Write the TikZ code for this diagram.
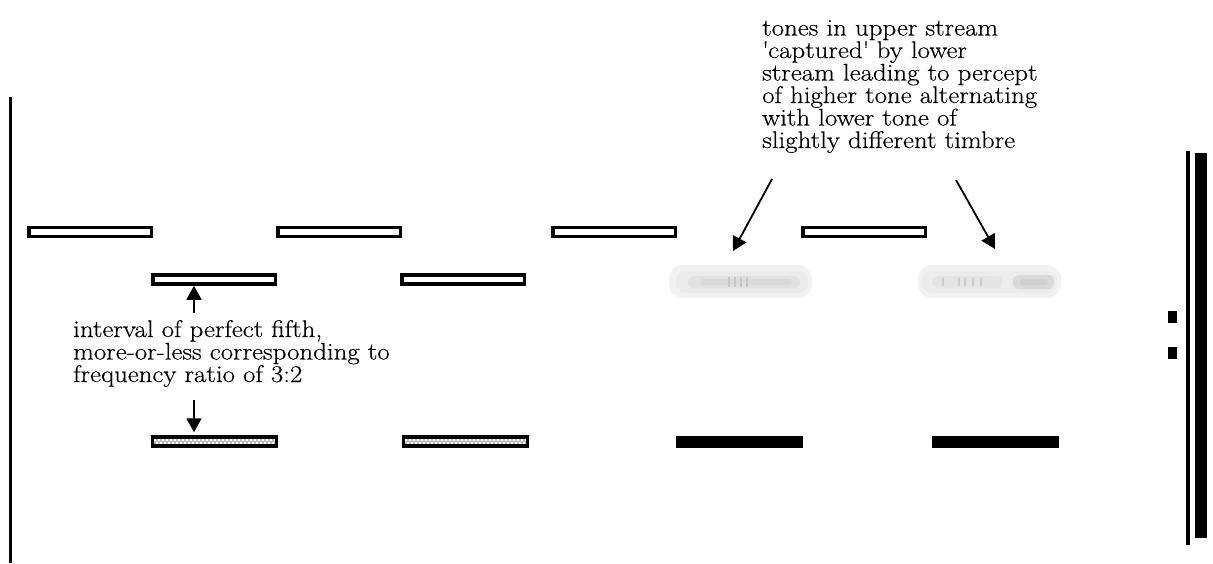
\documentclass[tikz,border=0pt]{standalone}
\usepackage{fontspec}
\setmainfont{Latin Modern Roman}[FakeStretch=1.12,FakeBold=0.4]
\usetikzlibrary{arrows.meta}
\begin{document}
\begin{tikzpicture}[x=1pt,y=-1pt,
  tone/.style={draw=black,fill=white,line width=3.5pt,minimum width=122.5pt,
    minimum height=9pt,inner sep=0pt},
  solidtone/.style={fill=black,minimum width=127pt,minimum height=12.5pt,inner sep=0pt},
  dithertone/.style={fill=black,minimum width=127pt,minimum height=13pt,inner sep=0pt},
  halo/.style={fill=gray!10,minimum width=143pt,minimum height=33pt,inner sep=0pt,
    rounded corners=14pt},
  lbl/.style={font=\fontsize{24}{22.5}\selectfont,align=left,inner sep=0pt},
  arr/.style={line width=1.8pt,-{Triangle[length=14pt,width=15pt]}}]

\useasboundingbox[fill=white] (0,0) rectangle (1213,563);

% time axis on the left
\fill (9,97) rectangle (11.5,563);

% upper stream
\node[tone] (u1) at (90,232) {};
\node[tone] (u2) at (339,232) {};
\node[tone] (u3) at (614,232) {};
\node[tone] (u4) at (864,232) {};

% middle stream, then captured (faded) tones
\node[tone] (m1) at (214,279.5) {};
\node[tone] (m2) at (463,279.5) {};

\node[halo] (f1) at (740.5,281.5) {};
\fill[gray!16,rounded corners=9pt] (676,271) rectangle (808,293);
\fill[gray!23,rounded corners=5pt] (688,276) rectangle (800,288);
\fill[gray!30,rounded corners=3pt] (700,279) rectangle (792,285);
\foreach \t in {728,734,740,746}
  \fill[gray!45] (\t,277) rectangle (\t+1.5,287);

\node[halo] (f2) at (989.5,281.5) {};
\fill[gray!15,rounded corners=9pt] (922,271) rectangle (1057,293);
\fill[gray!21,rounded corners=5pt] (932,276) rectangle (1002,288);
\fill[gray!30,rounded corners=5pt] (1013,275) rectangle (1054,289);
\fill[gray!38,rounded corners=3pt] (1020,279) rectangle (1048,285);
\foreach \t in {942,958,964,972,980}
  \fill[gray!40] (\t,278) rectangle (\t+2,286);

% lower stream
\node[dithertone] (l1) at (214.5,441.5) {};
\node[dithertone] (l2) at (465.5,441.5) {};
\foreach \b in {l1,l2}{
  \fill[gray!55] ([xshift=3pt,yshift=-4.5pt]\b.north west) rectangle ([xshift=-3pt,yshift=4.5pt]\b.south east);
  \draw[white,line width=1.5pt,dash pattern=on 2pt off 2pt]
    ([xshift=3pt,yshift=-5.2pt]\b.north west) -- ([xshift=-3pt,yshift=-5.2pt]\b.north east);
  \draw[white,line width=1.5pt,dash pattern=on 2pt off 2pt,dash phase=2pt]
    ([xshift=3pt,yshift=5.2pt]\b.south west) -- ([xshift=-3pt,yshift=5.2pt]\b.south east);
}
\node[solidtone] (l3) at (739.5,442) {};
\node[solidtone] (l4) at (995,442) {};

% annotation: interval between the streams (anchored at the last baseline)
\node[lbl,anchor=base west] (fifth) at (73,382)
  {interval of perfect fifth,\\more-or-less corresponding to\\frequency ratio of 3:2};
\coordinate (upfoot) at (194,313);
\coordinate (downtop) at (194,400);
\draw[arr] (upfoot) -- (upfoot |- m1.south);
\draw[arr] (downtop) -- ([yshift=2.5pt]downtop |- l1.north);

% annotation: capture of the upper tones (anchored at the last baseline)
\node[lbl,anchor=base west] (capt) at (762,148)
  {tones in upper stream\\\textquotesingle captured\textquotesingle{} by lower\\stream leading to percept\\of higher tone alternating\\with lower tone of\\slightly different timbre};
\coordinate (c1from) at (772,179);
\coordinate (c1to) at (733,251);
\coordinate (c2from) at (956,180);
\coordinate (c2to) at (995,249);
\draw[arr] (c1from) -- (c1to);
\draw[arr] (c2from) -- (c2to);

% right-hand marks
\fill (1168,311) rectangle (1177,323);
\fill (1168,347) rectangle (1177,359);
\fill (1186,151) rectangle (1190,545);
\fill (1195,153) rectangle (1207,538);
\end{tikzpicture}
\end{document}
